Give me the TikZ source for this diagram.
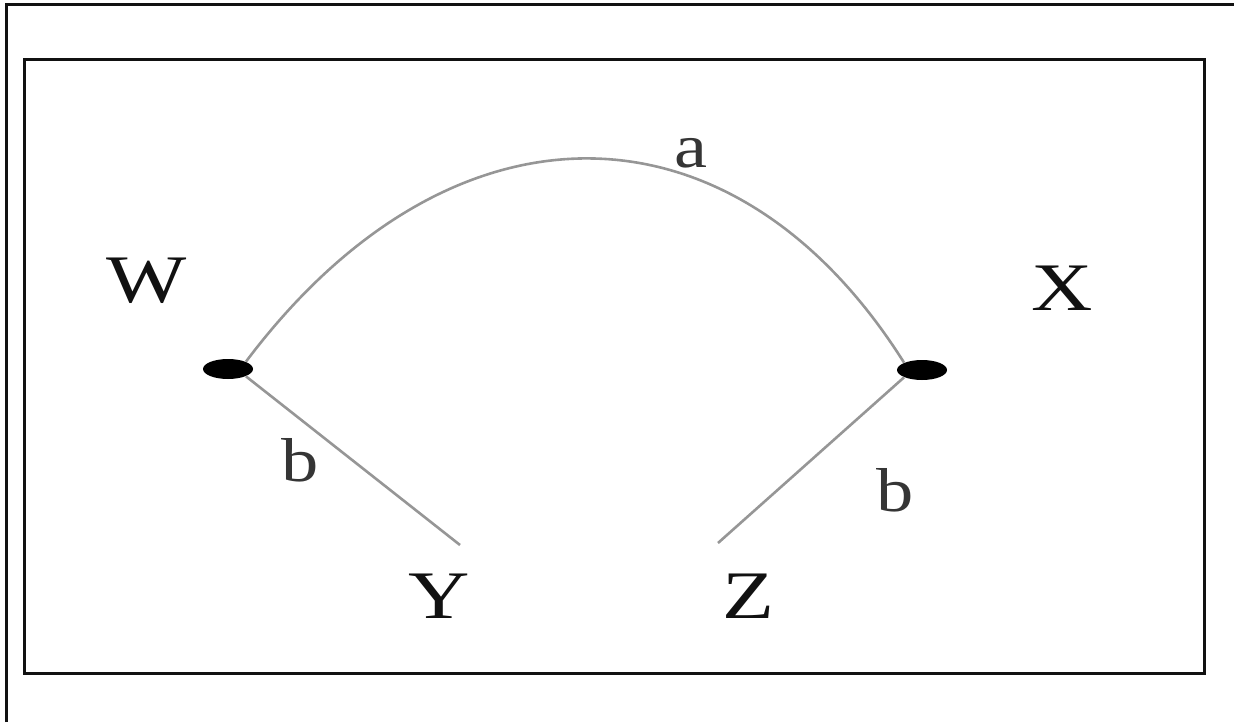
\documentclass[tikz,border=0pt]{standalone}
\usepackage{fontspec}
\setmainfont{Liberation Serif}
\usetikzlibrary{shapes.geometric}
\definecolor{inkBlack}{RGB}{17, 17, 17}
\definecolor{inkEdge}{RGB}{150, 150, 150}
\tikzset{
  vertex/.style={ellipse, fill=black, inner sep=0pt, minimum width=25pt, minimum height=10pt},
  vlabel/.style={font=\fontsize{34pt}{37pt}\selectfont, text=inkBlack, xscale=1.25, inner sep=0pt},
  elabel/.style={font=\fontsize{31pt}{34pt}\selectfont, text=inkBlack!85, xscale=1.2, inner sep=0pt},
  arc/.style={draw=inkEdge, line width=1.3pt}
}
\begin{document}
\begin{tikzpicture}[x=0.5pt, y=-0.5pt]
  \useasboundingbox (0,0) rectangle (1234,722);
  % frames
  \draw[line width=1.5pt, inkBlack] (6,722) -- (6,5) -- (1234,5);
  \draw[line width=1.5pt, inkBlack] (24,60) rectangle (1204,673);
  % vertices
  \node[vertex] (W) at (228,369) {};
  \node[vertex] (X) at (922,370) {};
  \coordinate (Yend) at (460,545);
  \coordinate (Zend) at (718,543);
  % edges
  \draw[arc] (W.north east) .. controls (450,90) and (733,91) .. (X.north west);
  \draw[arc] (W.south east) -- (Yend);
  \draw[arc] (X.south west) -- (Zend);
  % labels
  \node[vlabel] (Wlab) at (147,281) {W};
  \node[vlabel] (Xlab) at (1062,288) {X};
  \node[vlabel] (Ylab) at (439,596) {Y};
  \node[vlabel] (Zlab) at (748,596) {Z};
  \node[elabel] (alab) at (691,153) {a};
  \node[elabel] (blab1) at (300,460) {b};
  \node[elabel] (blab2) at (895,490) {b};
\end{tikzpicture}
\end{document}
